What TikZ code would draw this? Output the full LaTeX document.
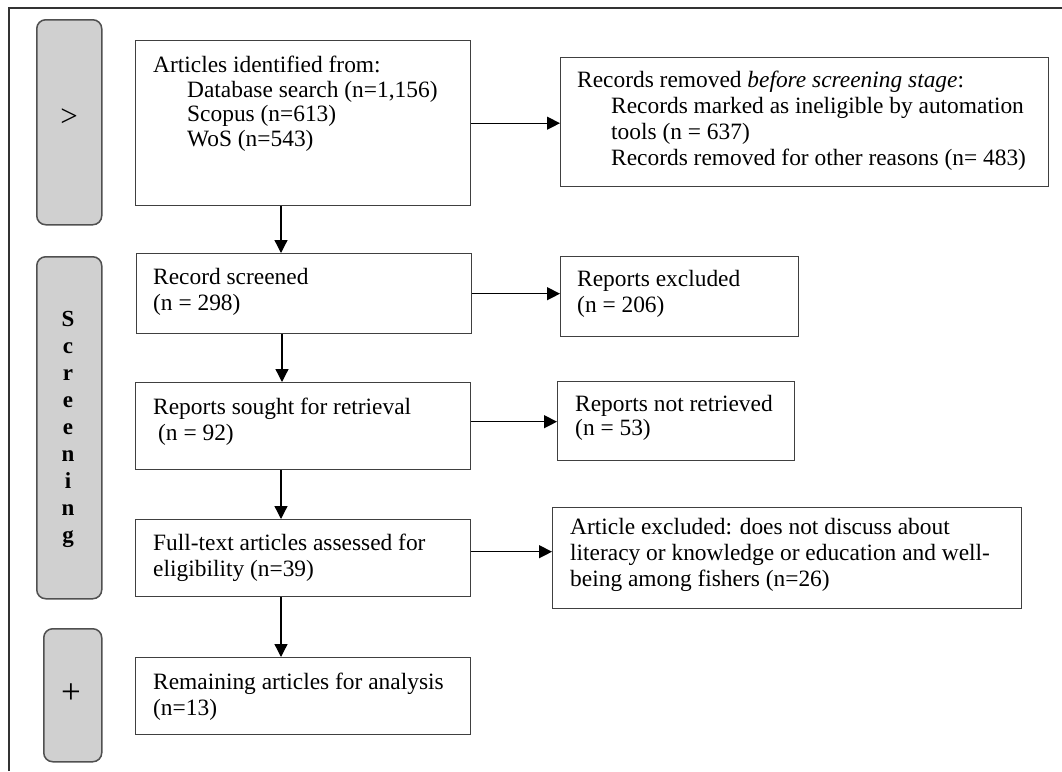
\documentclass[tikz,border=0pt]{standalone}
\usepackage{fontspec}
\setmainfont{Liberation Serif}
\usetikzlibrary{arrows.meta,calc}
\definecolor{boxgray}{RGB}{64,64,64}
\definecolor{bargray}{RGB}{80,80,80}
\definecolor{barfill}{RGB}{208,208,208}
\definecolor{framegray}{RGB}{50,50,50}
\begin{document}
\begin{tikzpicture}[x=1pt,y=-1pt,
  box/.style={draw=boxgray, line width=1.4pt, inner sep=0pt, anchor=north west},
  bar/.style={draw=bargray, fill=barfill, rounded corners=9pt, line width=1.5pt, inner sep=0pt, anchor=north west},
  txt/.style={anchor=north west, inner sep=0pt, align=left, font=\fontsize{23.4}{25.5}\selectfont},
  bigsym/.style={inner sep=0pt, font=\fontsize{31}{31}\selectfont},
  arr/.style={draw=black, line width=1.3pt, -{Triangle[length=13pt,width=13pt]}}]
\useasboundingbox (0,0) rectangle (1062,771);
\fill[white] (0,0) rectangle (1062,771);
% outer frame
\draw[line width=2pt, framegray] (9,771) -- (9,8) -- (1062,8);
% side bars
\node[bar, minimum width=65pt, minimum height=205pt] (s1) at (36,19) {};
\node[bar, minimum width=65pt, minimum height=342pt] (s2) at (36,256) {};
\node[bar, minimum width=58pt, minimum height=133pt] (s3) at (43,628) {};
\node[bigsym] (s1t) at (69,118) {>};
\node[bigsym, font=\fontsize{35}{35}\selectfont] (s3t) at (71,694) {+};
\node[inner sep=0pt, align=center, font=\fontsize{23}{27}\bfseries\selectfont] (s2t) at (68,429) {S\\c\\r\\e\\e\\n\\i\\n\\g};
% boxes
\node[box, minimum width=335pt, minimum height=165pt] (b1) at (135,40) {};
\node[box, minimum width=488pt, minimum height=129pt] (r1) at (560,57) {};
\node[box, minimum width=335pt, minimum height=80pt] (b2) at (136,253) {};
\node[box, minimum width=238pt, minimum height=80pt] (r2) at (560,256) {};
\node[box, minimum width=335pt, minimum height=87pt] (b3) at (135,382) {};
\node[box, minimum width=237pt, minimum height=79pt] (r3) at (557,381) {};
\node[box, minimum width=335pt, minimum height=77pt] (b4) at (135,519) {};
\node[box, minimum width=469pt, minimum height=101pt] (r4) at (552,507) {};
\node[box, minimum width=335pt, minimum height=77pt] (b5) at (135,657) {};
% texts
\node[txt, font=\fontsize{23.4}{24.5}\selectfont] (t1) at ($(b1.north west)+(18,16)$) {Articles identified from:\\\hspace*{34pt}Database search (n=1,156)\\\hspace*{34pt}Scopus (n=613)\\\hspace*{34pt}WoS (n=543)};
\node[txt, font=\fontsize{23.4}{26}\selectfont] (tr1) at ($(r1.north west)+(17,14)$) {Records removed \textit{before screening stage}:\\\hspace*{34pt}Records marked as ineligible by automation\\\hspace*{34pt}tools (n = 637)\\\hspace*{34pt}Records removed for other reasons (n= 483)};
\node[txt, font=\fontsize{23.4}{26}\selectfont] (t2) at ($(b2.north west)+(17,15)$) {Record screened\\(n = 298)};
\node[txt, font=\fontsize{23.4}{26}\selectfont] (tr2) at ($(r2.north west)+(17,14)$) {Reports excluded\\(n = 206)};
\node[txt, font=\fontsize{23.4}{26}\selectfont] (t3) at ($(b3.north west)+(18,16)$) {Reports sought for retrieval\\\hspace*{5pt}(n = 92)};
\node[txt, font=\fontsize{23.4}{24.5}\selectfont] (tr3) at ($(r3.north west)+(18,14)$) {Reports not retrieved\\(n = 53)};
\node[txt] (t4) at ($(b4.north west)+(18,15)$) {Full-text articles assessed for\\eligibility (n=39)};
\node[txt, font=\fontsize{23.4}{26}\selectfont] (tr4) at ($(r4.north west)+(18,11)$) {Article excluded: does not discuss about\\literacy or knowledge or education and well-\\being among fishers (n=26)};
\node[txt] (t5) at ($(b5.north west)+(18,16)$) {Remaining articles for analysis\\(n=13)};
% horizontal connectors
\draw[arr] (b1.east) -- (r1.west |- b1.east);
\draw[arr] (b2.east) -- (r2.west |- b2.east);
\coordinate (a3) at ([yshift=4.5pt]b3.east);
\draw[arr] (a3) -- (r3.west |- a3);
\coordinate (a4) at ([yshift=6.5pt]b4.east);
\draw[arr] (a4) -- (r4.west |- a4);
% vertical connectors
\coordinate (v1) at ([xshift=146pt]b1.south west);
\draw[arr] (v1) -- (v1 |- b2.north);
\coordinate (v2) at ([xshift=146pt]b2.south west);
\draw[arr] (v2) -- (v2 |- b3.north);
\coordinate (v3) at ([xshift=146pt]b3.south west);
\draw[arr] (v3) -- (v3 |- b4.north);
\coordinate (v4) at ([xshift=146pt]b4.south west);
\draw[arr] (v4) -- (v4 |- b5.north);
\end{tikzpicture}
\end{document}
